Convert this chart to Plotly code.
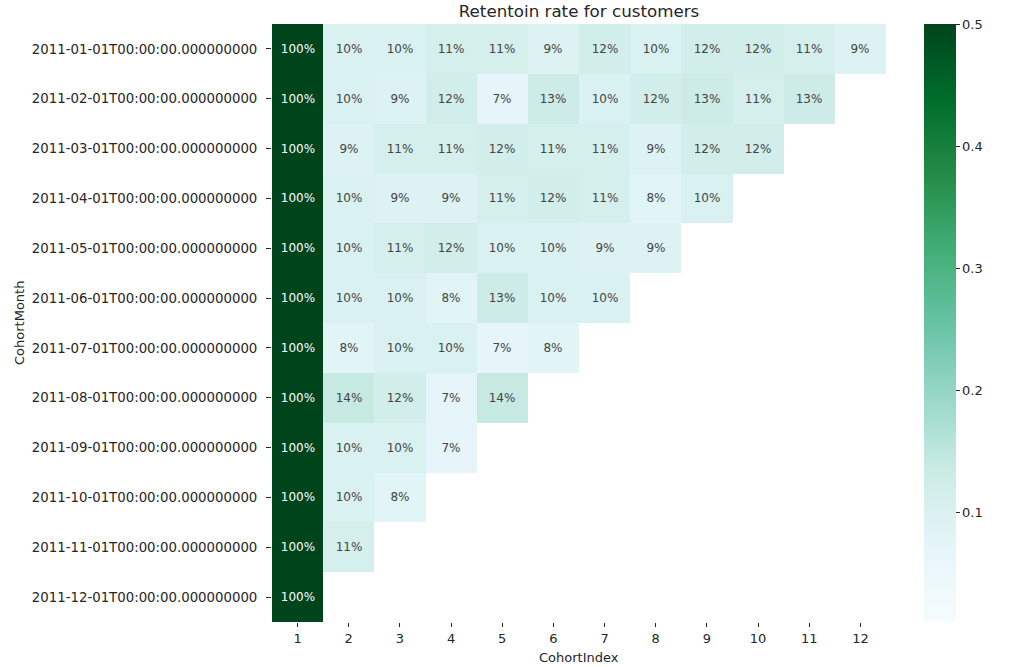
import plotly.graph_objects as go

cohort_months = [
    "2011-01-01T00:00:00.000000000", "2011-02-01T00:00:00.000000000",
    "2011-03-01T00:00:00.000000000", "2011-04-01T00:00:00.000000000",
    "2011-05-01T00:00:00.000000000", "2011-06-01T00:00:00.000000000",
    "2011-07-01T00:00:00.000000000", "2011-08-01T00:00:00.000000000",
    "2011-09-01T00:00:00.000000000", "2011-10-01T00:00:00.000000000",
    "2011-11-01T00:00:00.000000000", "2011-12-01T00:00:00.000000000",
]
cohort_index = [1, 2, 3, 4, 5, 6, 7, 8, 9, 10, 11, 12]

row_2011_01 = [1.00, 0.10, 0.10, 0.11, 0.11, 0.09, 0.12, 0.10, 0.12, 0.12, 0.11, 0.09]
row_2011_02 = [1.00, 0.10, 0.09, 0.12, 0.07, 0.13, 0.10, 0.12, 0.13, 0.11, 0.13]
row_2011_03 = [1.00, 0.09, 0.11, 0.11, 0.12, 0.11, 0.11, 0.09, 0.12, 0.12]
row_2011_04 = [1.00, 0.10, 0.09, 0.09, 0.11, 0.12, 0.11, 0.08, 0.10]
row_2011_05 = [1.00, 0.10, 0.11, 0.12, 0.10, 0.10, 0.09, 0.09]
row_2011_06 = [1.00, 0.10, 0.10, 0.08, 0.13, 0.10, 0.10]
row_2011_07 = [1.00, 0.08, 0.10, 0.10, 0.07, 0.08]
row_2011_08 = [1.00, 0.14, 0.12, 0.07, 0.14]
row_2011_09 = [1.00, 0.10, 0.10, 0.07]
row_2011_10 = [1.00, 0.10, 0.08]
row_2011_11 = [1.00, 0.11]
row_2011_12 = [1.00]

rows = [row_2011_01, row_2011_02, row_2011_03, row_2011_04, row_2011_05, row_2011_06,
        row_2011_07, row_2011_08, row_2011_09, row_2011_10, row_2011_11, row_2011_12]
z = [r + [None] * (len(cohort_index) - len(r)) for r in rows]

FONT = "DejaVu Sans"
TXT = "#262626"
W, H = 1016, 667
L, R, T, B = 272, 886, 24, 622

fig = go.Figure(go.Heatmap(
    z=z, x=cohort_index, y=cohort_months,
    colorscale="BuGn", zmin=0.01, zmax=0.5,
    texttemplate="%{z:.0%}", textfont=dict(family=FONT, size=12),
    xgap=0, ygap=0, hoverongaps=False,
    colorbar=dict(
        x=(924 - L) / (R - L), xanchor="left", xref="paper",
        y=0.5, yanchor="middle", len=1.0, lenmode="fraction", ypad=0, xpad=0,
        thickness=32, outlinewidth=0,
        tickvals=[0.1, 0.2, 0.3, 0.4, 0.5], ticktext=["0.1", "0.2", "0.3", "0.4", "0.5"],
        ticks="outside", ticklen=4, tickcolor=TXT,
        tickfont=dict(family=FONT, size=13, color=TXT),
    ),
))

fig.update_layout(
    width=W, height=H,
    margin=dict(l=L, r=W - R, t=T, b=H - B, autoexpand=False),
    plot_bgcolor="white", paper_bgcolor="white",
    font=dict(family=FONT, color=TXT, size=13),
    title=dict(text="Retentoin rate for customers", x=((460 + 698) / 2) / W, xanchor="center",
               y=1 - 11 / H, yanchor="middle", font=dict(family=FONT, size=16.7, color=TXT)),
    xaxis=dict(tickmode="array", tickvals=cohort_index, ticktext=[str(v) for v in cohort_index],
               ticks="outside", ticklen=4, tickcolor=TXT, showgrid=False, zeroline=False,
               showline=False, automargin=False, tickfont=dict(family=FONT, size=13, color=TXT)),
    yaxis=dict(type="category", autorange="reversed", ticks="outside", ticklen=5, tickcolor=TXT,
               showgrid=False, zeroline=False, showline=False, automargin=False,
               ticklabelstandoff=6,
               tickfont=dict(family=FONT, size=13.3, color=TXT)),
    annotations=[
        dict(text="CohortIndex", xref="paper", yref="paper", x=0.5,
             y=-(657 - B) / (B - T),
             xanchor="center", yanchor="middle", showarrow=False,
             font=dict(family=FONT, size=13, color=TXT)),
        dict(text="CohortMonth", xref="paper", yref="paper", x=-(L - 19) / (R - L), y=0.5,
             xanchor="center", yanchor="middle", textangle=-90, showarrow=False,
             font=dict(family=FONT, size=13, color=TXT)),
    ],
)

fig.write_html("out.html", config={"displayModeBar": False},
               post_script="document.body.style.margin='0';document.body.style.padding='0';")
